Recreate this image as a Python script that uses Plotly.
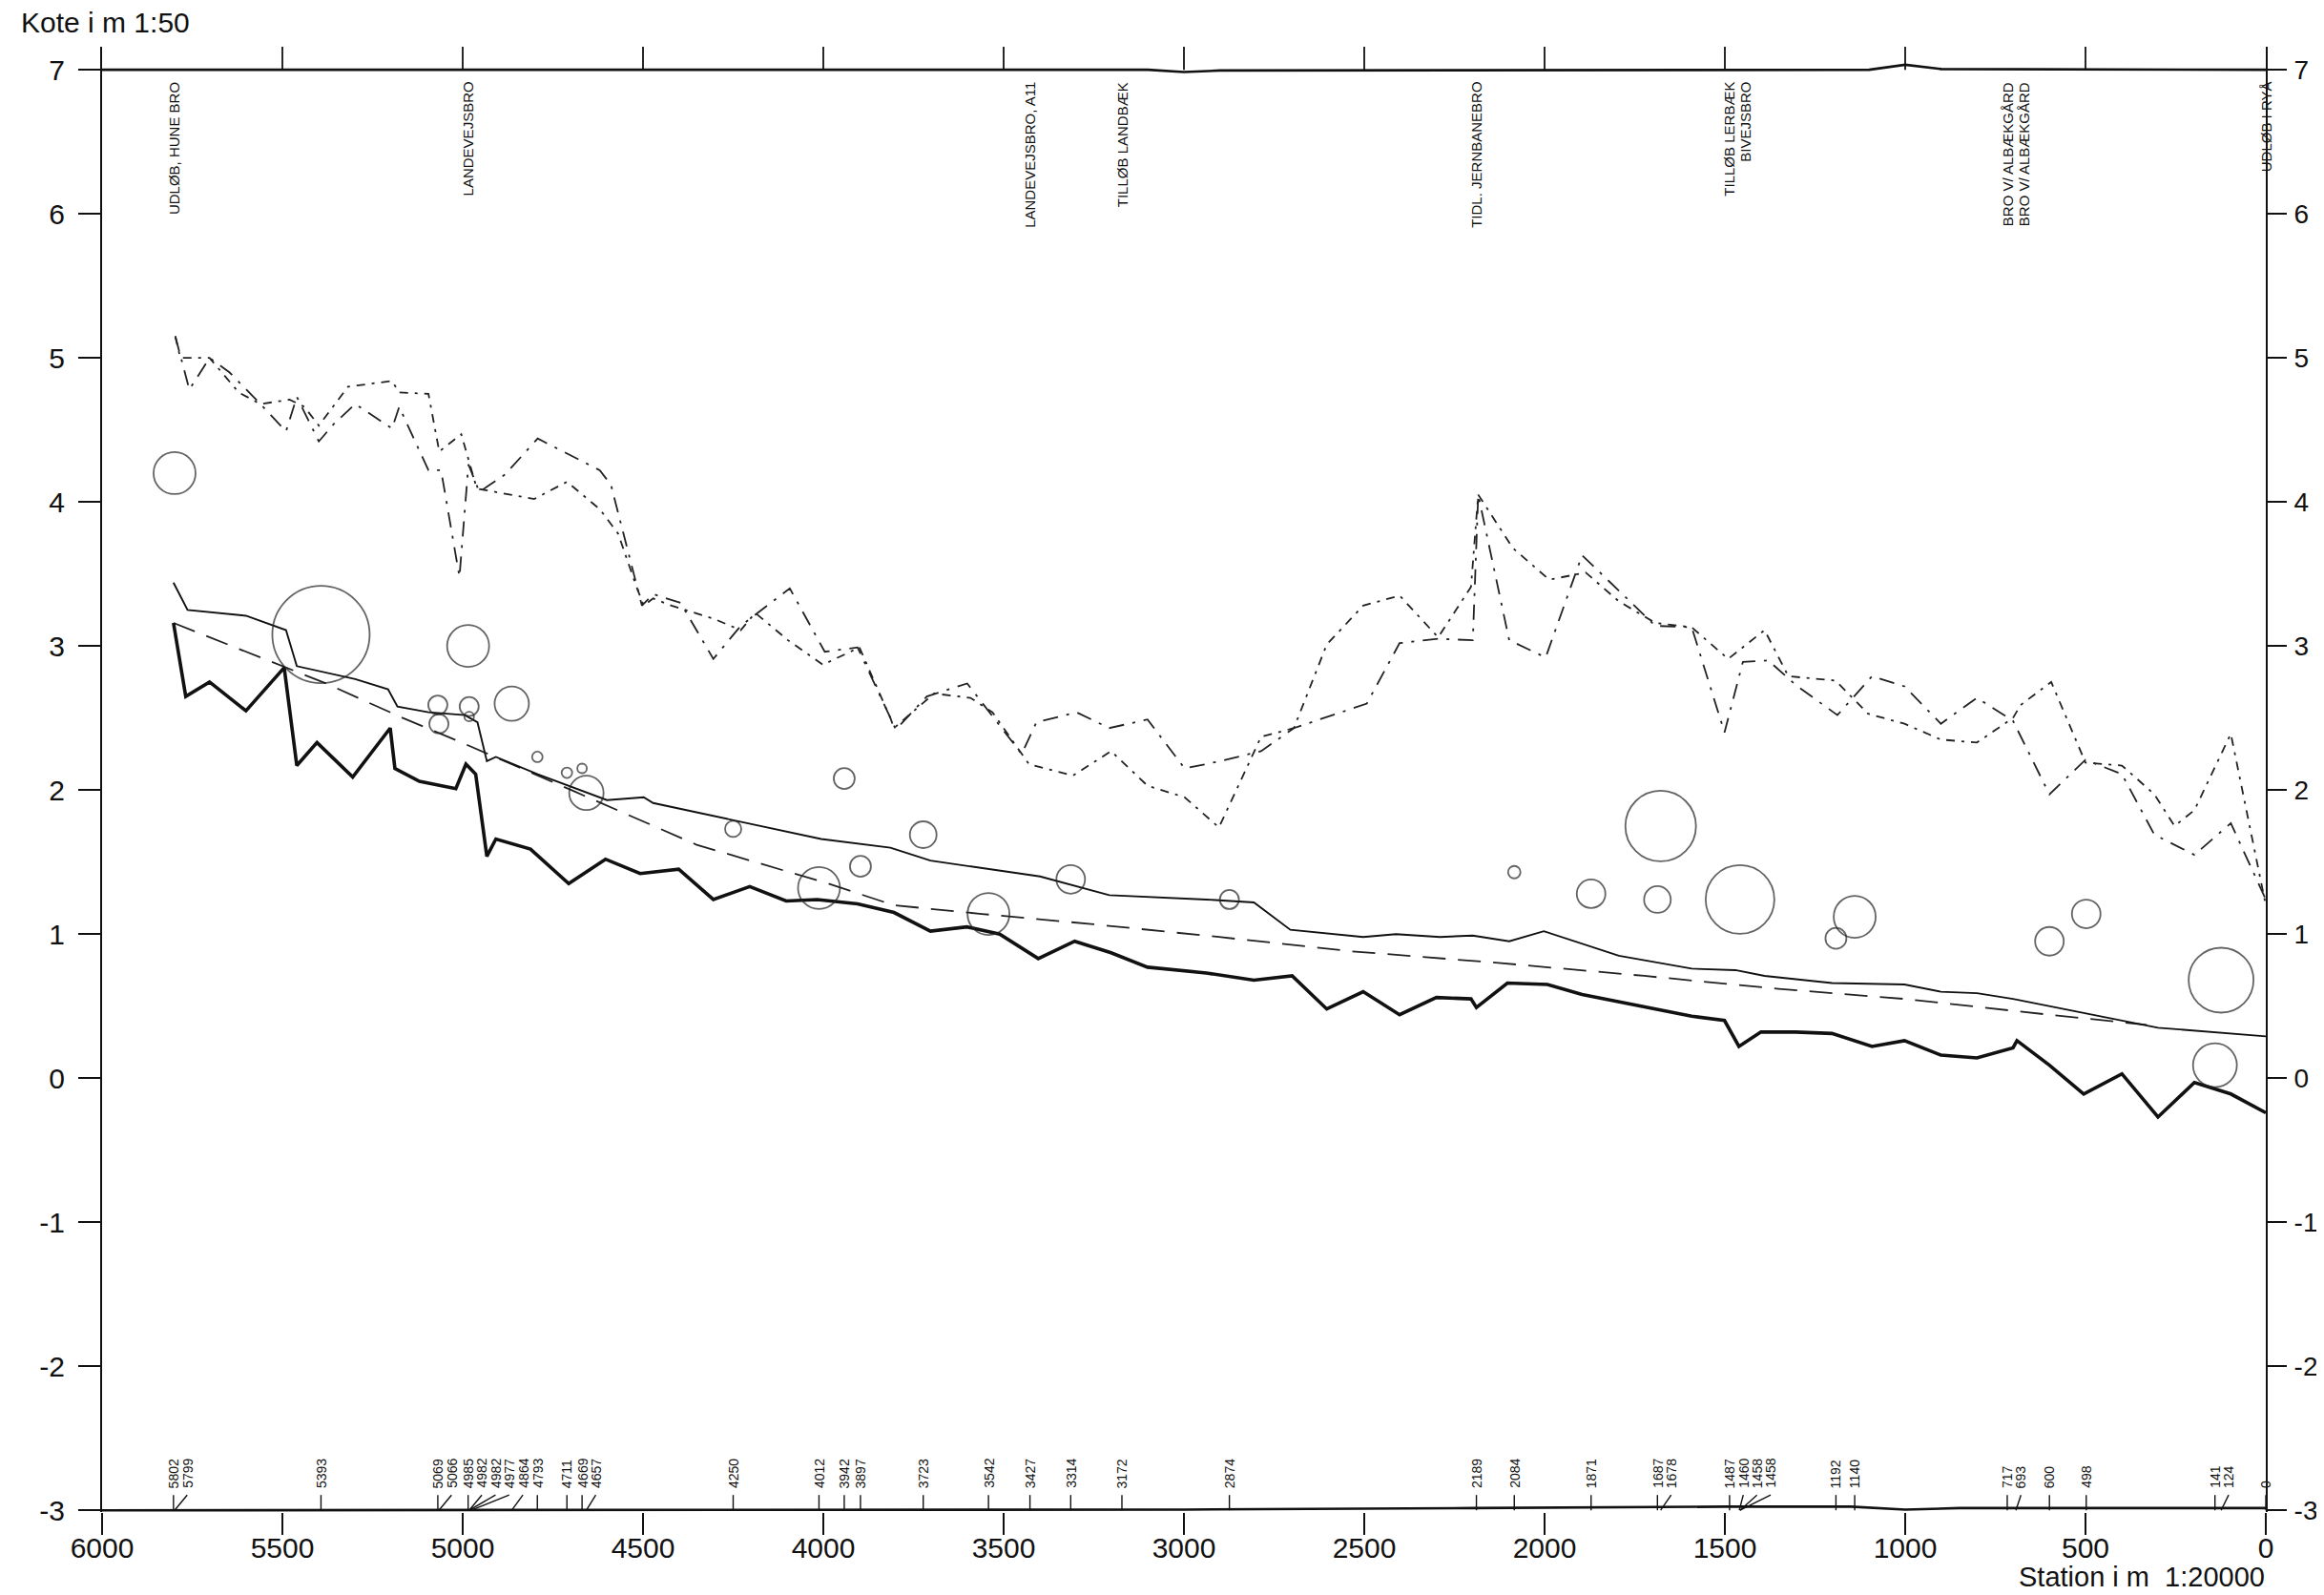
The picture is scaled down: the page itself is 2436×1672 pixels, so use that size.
import plotly.graph_objects as go

# ---------------- data ----------------
# Upper bank lines (two dash-dot lines)
bank_a_st = [5797, 5758, 5702, 5647, 5561, 5490, 5460, 5399, 5358, 5298, 5196, 5176, 5095, 5060, 5009, 4984,
             4954, 4883, 4792, 4620, 4589, 4549, 4503, 4472, 4396, 4305, 4229, 4093, 3996, 3905, 3799, 3713,
             3601, 3450, 3409, 3298, 3207, 3101, 2998, 2900, 2786, 2695, 2493, 2402, 2295, 2199, 2184, 2098,
             1997, 1896, 1825, 1693, 1592, 1501, 1450, 1380, 1304, 1188, 1092, 1002, 901, 801, 701, 600,
             500, 399, 309, 198, 97, 0]
bank_a_kote = [5.15, 4.78, 5.00, 4.90, 4.68, 4.49, 4.73, 4.42, 4.54, 4.68, 4.51, 4.66, 4.22, 4.22, 3.48, 4.26,
               4.07, 4.19, 4.44, 4.22, 4.12, 3.72, 3.28, 3.36, 3.30, 2.91, 3.14, 3.40, 2.96, 2.99, 2.42, 2.65,
               2.74, 2.25, 2.47, 2.54, 2.43, 2.49, 2.15, 2.20, 2.27, 2.43, 2.60, 3.02, 3.05, 3.04, 4.05, 3.04,
               2.92, 3.63, 3.46, 3.14, 3.13, 2.40, 2.89, 2.90, 2.73, 2.52, 2.79, 2.72, 2.46, 2.64, 2.48, 1.97,
               2.21, 2.11, 1.69, 1.55, 1.77, 1.24]

bank_b_st = [5797, 5783, 5702, 5621, 5561, 5480, 5439, 5399, 5318, 5196, 5176, 5095, 5065, 5004, 4964, 4954,
             4802, 4711, 4620, 4569, 4518, 4498, 4472, 4421, 4305, 4229, 4189, 4098, 4001, 3900, 3814, 3804,
             3693, 3592, 3531, 3430, 3308, 3202, 3101, 2998, 2903, 2786, 2695, 2604, 2503, 2402, 2295, 2204,
             2184, 2088, 1987, 1886, 1794, 1693, 1592, 1491, 1390, 1324, 1193, 1103, 1002, 901, 801, 701,
             680, 595, 500, 399, 309, 253, 198, 97, 0]
bank_b_kote = [5.15, 5.00, 5.00, 4.76, 4.68, 4.71, 4.66, 4.53, 4.80, 4.84, 4.76, 4.75, 4.35, 4.47, 4.12, 4.09,
               4.02, 4.14, 3.95, 3.78, 3.41, 3.28, 3.33, 3.28, 3.19, 3.11, 3.23, 3.04, 2.87, 2.99, 2.50, 2.43,
               2.67, 2.64, 2.54, 2.18, 2.10, 2.27, 2.03, 1.95, 1.74, 2.37, 2.43, 3.01, 3.28, 3.35, 3.06, 3.41,
               4.05, 3.68, 3.46, 3.51, 3.31, 3.16, 3.13, 2.91, 3.11, 2.79, 2.76, 2.53, 2.46, 2.35, 2.33, 2.50,
               2.59, 2.75, 2.19, 2.17, 1.97, 1.75, 1.86, 2.39, 1.20]

# Water level (thin solid)
water_st = [5802, 5763, 5601, 5490, 5460, 5298, 5207, 5181, 5095, 4994, 4959, 4933, 4908, 4792, 4600, 4498,
            4472, 4320, 4006, 3814, 3703, 3399, 3207, 2938, 2806, 2705, 2503, 2412, 2290, 2199, 2098, 2002,
            1794, 1592, 1471, 1390, 1203, 1002, 901, 801, 701, 299, 0]
water_kote = [3.44, 3.25, 3.21, 3.11, 2.86, 2.77, 2.70, 2.58, 2.54, 2.52, 2.47, 2.20, 2.23, 2.11, 1.93, 1.95,
              1.91, 1.83, 1.66, 1.60, 1.51, 1.40, 1.27, 1.24, 1.22, 1.03, 0.98, 1.00, 0.98, 0.99, 0.95, 1.02,
              0.85, 0.76, 0.75, 0.71, 0.66, 0.65, 0.60, 0.59, 0.55, 0.35, 0.29]

# Bed (thick solid)
bed_st = [5802, 5768, 5702, 5601, 5495, 5460, 5404, 5305, 5201, 5188, 5120, 5019, 4991, 4964, 4933, 4908,
          4812, 4706, 4604, 4508, 4401, 4305, 4204, 4103, 4017, 3905, 3804, 3703, 3602, 3511, 3404, 3303,
          3202, 3101, 2938, 2806, 2700, 2604, 2503, 2402, 2300, 2204, 2189, 2103, 1992, 1896, 1592, 1501,
          1461, 1400, 1304, 1203, 1092, 1002, 901, 801, 701, 690, 600, 505, 399, 299, 198, 97, 0]
bed_kote = [3.16, 2.65, 2.75, 2.55, 2.85, 2.17, 2.33, 2.09, 2.43, 2.15, 2.06, 2.01, 2.18, 2.11, 1.54, 1.66,
            1.59, 1.35, 1.52, 1.42, 1.45, 1.24, 1.33, 1.23, 1.24, 1.21, 1.15, 1.02, 1.05, 1.00, 0.83, 0.95,
            0.87, 0.77, 0.73, 0.68, 0.71, 0.48, 0.60, 0.44, 0.56, 0.55, 0.49, 0.66, 0.65, 0.58, 0.43, 0.40,
            0.22, 0.32, 0.32, 0.31, 0.22, 0.26, 0.16, 0.14, 0.21, 0.26, 0.09, -0.11, 0.03, -0.27, -0.03, -0.11, -0.24]

# Design bed (dashed)
design_st = [5802, 5500, 5379, 5166, 4994, 4690, 4472, 4351, 3986, 3804, 3561, 3258, 2903, 2533, 2128, 1724,
             1351, 1002, 600, 330]
design_kote = [3.16, 2.86, 2.74, 2.50, 2.32, 1.99, 1.75, 1.62, 1.35, 1.20, 1.14, 1.07, 0.98, 0.88, 0.80, 0.71,
               0.62, 0.55, 0.44, 0.37]

# Outlets (circles)
outlet_st = [5799, 5393, 4985, 5069, 5066, 4982, 4982, 4864, 4793, 4711, 4669, 4657, 4250, 3942, 4012, 3897,
             3723, 3542, 3314, 2874, 2084, 1871, 1687, 1678, 1458, 1192, 1140, 600, 498, 124, 141]
outlet_kote = [4.20, 3.08, 3.00, 2.59, 2.46, 2.58, 2.51, 2.60, 2.23, 2.12, 2.15, 1.98, 1.73, 2.08, 1.32, 1.47,
               1.69, 1.14, 1.38, 1.24, 1.43, 1.28, 1.24, 1.75, 1.24, 0.97, 1.12, 0.95, 1.14, 0.68, 0.09]
outlet_size = [44, 102, 44, 20, 20, 20, 10, 36, 11, 11, 10, 36, 17, 22, 44, 22,
               28, 44, 30, 20, 13, 30, 28, 74, 72, 22, 44, 30, 30, 68, 46]

# Frame lines (top and bottom profile lines)
top_line_st = [6000, 3100, 3000, 2900, 1100, 1000, 900, 0]
top_line_kote = [7.0, 7.0, 6.985, 6.995, 7.0, 7.035, 7.005, 7.0]
bot_line_st = [6000, 3000, 2200, 1500, 1150, 1000, 850, 0]
bot_line_kote = [-3.0, -2.995, -2.985, -2.975, -2.975, -2.995, -2.985, -2.985]

# Station labels at the bottom
station_labels = [5802, 5799, 5393, 5069, 5066, 4985, 4982, 4982, 4977, 4864, 4793, 4711, 4669, 4657,
                  4250, 4012, 3942, 3897, 3723, 3542, 3427, 3314, 3172, 2874, 2189, 2084, 1871, 1687,
                  1678, 1487, 1460, 1458, 1458, 1192, 1140, 717, 693, 600, 498, 141, 124, 0]

# Location names at the top
place_st = [5802, 4985, 3427, 3172, 2189, 1487, 1460, 717, 693, 0]
place_names = ["UDLØB, HUNE BRO", "LANDEVEJSBRO", "LANDEVEJSBRO, A11", "TILLØB LANDBÆK",
               "TIDL. JERNBANEBRO", "TILLØB LERBÆK", "BIVEJSBRO", "BRO V/ ALBÆKGÅRD",
               "BRO V/ ALBÆKGÅRD", "UDLØB I RYÅ"]

x_ticks = [6000, 5500, 5000, 4500, 4000, 3500, 3000, 2500, 2000, 1500, 1000, 500, 0]
top_ticks = [5500, 5000, 4500, 4000, 3500, 3000, 2500, 2000, 1500, 1000, 500]
y_ticks = [-3, -2, -1, 0, 1, 2, 3, 4, 5, 6, 7]

# ---------------- layout constants ----------------
W, H = 2436, 1672
ML, MR, MT, MB = 99, 69, 41, 95
Y_RANGE = [-3.012, 7.16]
FONT = "Liberation Sans, Arial, sans-serif"
BLACK = "#111111"


def spread(stations, gap):
    pos = []
    for s in stations:
        if pos and s > pos[-1] - gap:
            pos.append(pos[-1] - gap)
        else:
            pos.append(s)
    return pos


fig = go.Figure()

# frame profile lines
fig.add_trace(go.Scatter(x=top_line_st, y=top_line_kote, mode="lines", yaxis="y2",
                         line=dict(color=BLACK, width=2.6), hoverinfo="skip"))
fig.add_trace(go.Scatter(x=bot_line_st, y=bot_line_kote, mode="lines",
                         line=dict(color=BLACK, width=2.6), hoverinfo="skip"))

# top ticks
tx, ty = [], []
for s in top_ticks:
    tx += [s, s, None]
    ty += [7.0, 7.16, None]
fig.add_trace(go.Scatter(x=tx, y=ty, mode="lines", line=dict(color=BLACK, width=1.8), hoverinfo="skip"))

# bank lines
fig.add_trace(go.Scatter(x=bank_a_st, y=bank_a_kote, mode="lines",
                         line=dict(color="#222222", width=1.8, dash="16px,9px,3px,9px")))
fig.add_trace(go.Scatter(x=bank_b_st, y=bank_b_kote, mode="lines",
                         line=dict(color="#222222", width=1.8, dash="9px,7px,3px,7px")))

# design bed
fig.add_trace(go.Scatter(x=design_st, y=design_kote, mode="lines",
                         line=dict(color="#222222", width=1.8, dash="24px,13px")))
# water level
fig.add_trace(go.Scatter(x=water_st, y=water_kote, mode="lines",
                         line=dict(color=BLACK, width=1.9)))
# bed
fig.add_trace(go.Scatter(x=bed_st, y=bed_kote, mode="lines",
                         line=dict(color=BLACK, width=3.6)))
# outlets
fig.add_trace(go.Scatter(x=outlet_st, y=outlet_kote, mode="markers",
                         marker=dict(symbol="circle-open", size=outlet_size, color="#222222",
                                     line=dict(width=1.8))))

# station ticks and labels at bottom
label_pos = spread(station_labels, 38)
sx, sy = [], []
for s, p in zip(station_labels, label_pos):
    sx += [p, s, None]
    sy += [-2.894, -3.0, None]
fig.add_trace(go.Scatter(x=sx, y=sy, mode="lines", line=dict(color=BLACK, width=1.4), hoverinfo="skip"))

annotations = []
for s, p in zip(station_labels, label_pos):
    annotations.append(dict(x=p, y=-2.86, xref="x", yref="y", text=str(s), showarrow=False,
                            textangle=-90, xanchor="center", yanchor="bottom",
                            font=dict(family=FONT, size=14, color=BLACK)))

place_pos = spread(place_st, 45)
for name, p in zip(place_names, place_pos):
    annotations.append(dict(x=p, y=6.93, xref="x", yref="y", text=name, showarrow=False,
                            textangle=-90, xanchor="center", yanchor="top",
                            font=dict(family=FONT, size=15, color=BLACK)))

plot_w = W - ML - MR
plot_h = H - MT - MB
annotations.append(dict(x=(12 - ML) / plot_w, y=1 - (15 - MT) / plot_h, xref="paper", yref="paper",
                        text="Kote i m 1:50", showarrow=False, xanchor="left", yanchor="middle",
                        font=dict(family=FONT, size=30, color=BLACK)))
annotations.append(dict(x=(2368 - ML) / plot_w, y=1 - (1645 - MT) / plot_h, xref="paper", yref="paper",
                        text="Station i m  1:20000", showarrow=False, xanchor="right", yanchor="middle",
                        font=dict(family=FONT, size=29, color=BLACK)))

yaxis_common = dict(range=Y_RANGE, tickvals=y_ticks, ticktext=[str(v) for v in y_ticks],
                    ticks="outside", tickwidth=2, tickcolor=BLACK,
                    showline=True, linewidth=2, linecolor=BLACK, showgrid=False, zeroline=False)

fig.update_layout(
    width=W, height=H,
    margin=dict(l=ML, r=MR, t=MT, b=MB),
    paper_bgcolor="white", plot_bgcolor="white",
    showlegend=False,
    xaxis=dict(range=[6000, 0], tickvals=x_ticks, ticktext=[str(v) for v in x_ticks],
               ticks="outside", ticklen=23, tickwidth=2, tickcolor=BLACK,
               showline=False, showgrid=False, zeroline=False, ticklabelstandoff=-12,
               tickfont=dict(family=FONT, size=30, color=BLACK)),
    yaxis=dict(side="left", ticklen=23, ticklabelstandoff=8,
               tickfont=dict(family=FONT, size=30, color=BLACK), **yaxis_common),
    yaxis2=dict(side="right", overlaying="y", anchor="x", ticklen=20, ticklabelstandoff=2,
                tickfont=dict(family=FONT, size=28, color=BLACK), **yaxis_common),
    annotations=annotations,
)

fig.write_html("out.html")
